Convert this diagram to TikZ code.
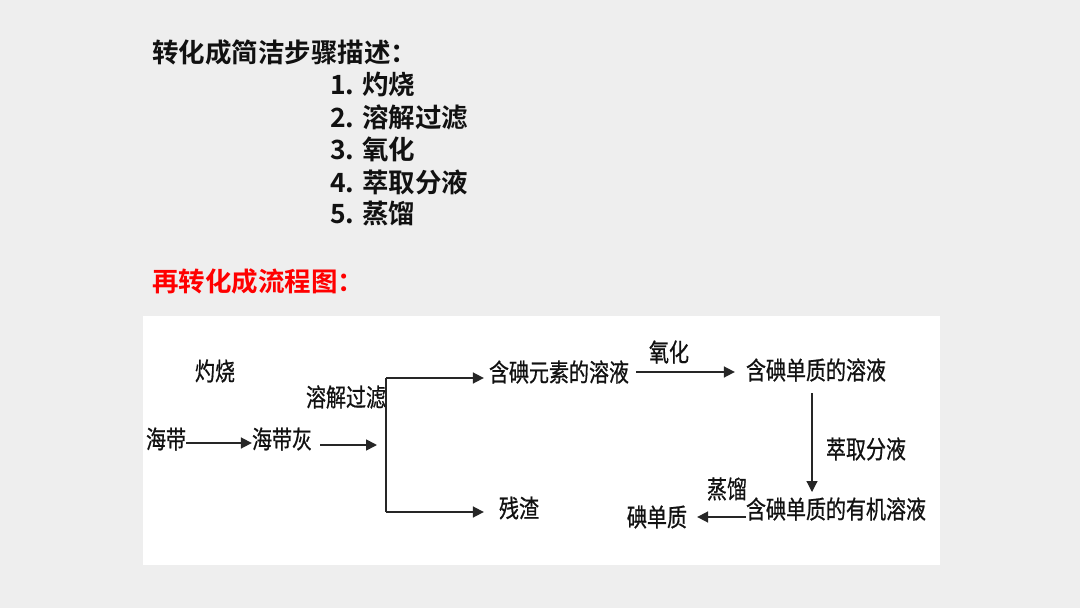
\documentclass[tikz,border=0pt]{standalone}
\usepackage{fontspec}
\newfontfamily\cjk[FakeBold=0.8]{Noto Sans CJK SC}
\newfontfamily\cjkb{Noto Sans CJK SC Bold}
\usetikzlibrary{arrows.meta}
\definecolor{bgc}{HTML}{EEEEEE}
\definecolor{ink}{HTML}{111111}
\definecolor{lnc}{HTML}{262626}
\definecolor{redt}{HTML}{FF0000}
\tikzset{
  head/.style={anchor=west,inner sep=0pt,text=ink,font=\cjkb\fontsize{26.5}{26.5}\selectfont},
  flow/.style={inner sep=0pt,text=ink,font=\cjk\fontsize{25}{25}\selectfont,xscale=0.8},
  arr/.style={draw=lnc,line width=1.7pt,-{Triangle[length=11pt,width=11pt]}},
  thin/.style={draw=lnc,line width=1.3pt},
}
\begin{document}
\begin{tikzpicture}[x=1pt,y=-1pt]
\fill[bgc] (0,0) rectangle (1080,608);
\useasboundingbox (0,0) rectangle (1080,608);
% heading texts
\node[head] (h0) at (152,52) {转化成简洁步骤描述：};
\node[head] (h1) at (330,84) {1. 灼烧};
\node[head] (h2) at (330,117) {2. 溶解过滤};
\node[head] (h3) at (330,149) {3. 氧化};
\node[head] (h4) at (330,182) {4. 萃取分液};
\node[head] (h5) at (330,214) {5. 蒸馏};
\node[head,text=redt] (h6) at (152,281) {再转化成流程图：};
% white panel
\fill[white] (143,316) rectangle (940,565);
% flowchart nodes
\node[flow] (l1) at (215,371) {灼烧};
\node[flow] (l2) at (346,397) {溶解过滤};
\node[flow] (n1) at (166,439) {海带};
\node[flow] (n2) at (282,439) {海带灰};
\node[flow] (n3) at (559,372) {含碘元素的溶液};
\node[flow] (n4) at (519,508) {残渣};
\node[flow] (l3) at (669,352) {氧化};
\node[flow] (n5) at (816,370) {含碘单质的溶液};
\node[flow] (l4) at (866,449) {萃取分液};
\node[flow] (n6) at (836,509) {含碘单质的有机溶液};
\node[flow] (l5) at (727,489) {蒸馏};
\node[flow] (n7) at (657,517) {碘单质};
% connectors
\coordinate (j0) at (320,445);
\coordinate (j1) at (377,445);
\coordinate (bt) at (386,378);
\coordinate (bb) at (386,512);
\draw[arr] (n1.east |- 0,443) -- (n2.west |- 0,443);
\draw[arr] (j0) -- (j1);
\draw[thin] (bt) -- (bb);
\draw[arr] (bt) -- ([xshift=-5pt]n3.west |- bt);
\draw[arr] (bb) -- ([xshift=-15pt]n4.west |- bb);
\draw[arr] ([xshift=7pt]n3.east |- 0,372) -- ([xshift=-11pt]n5.west |- 0,372);
\draw[arr,line width=1.2pt] (812,393) -- (812,492);
\draw[arr] (n6.west |- 0,517) -- ([xshift=10pt]n7.east |- 0,517);
\end{tikzpicture}
\end{document}
